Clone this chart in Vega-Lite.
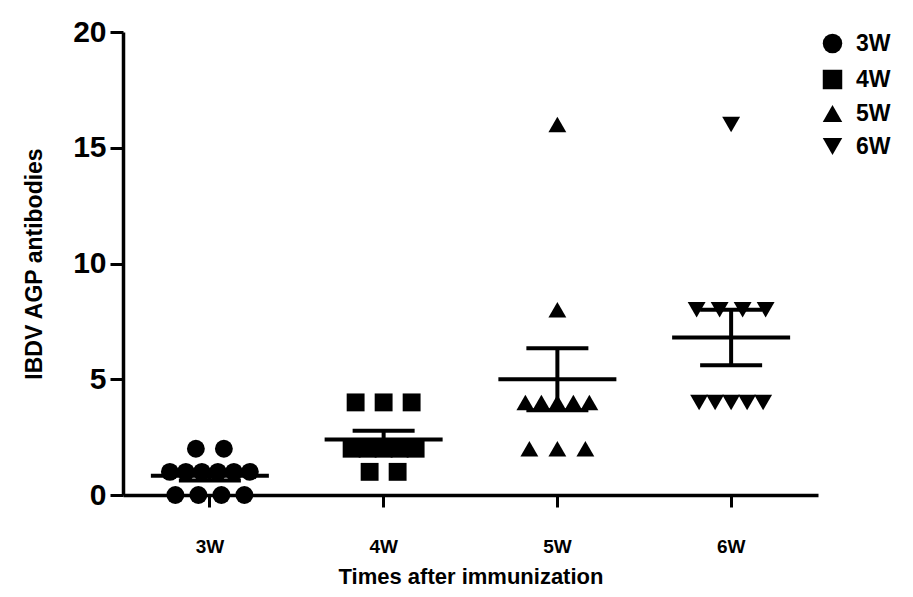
{
  "$schema": "https://vega.github.io/schema/vega-lite/v6.json",
  "width": 695,
  "height": 463,
  "autosize": {"type": "none"},
  "padding": {"left": 123, "top": 32, "right": 95, "bottom": 102},
  "background": "white",
  "config": {
    "view": {"stroke": null},
    "font": "Liberation Sans",
    "axis": {
      "grid": false,
      "domainColor": "black",
      "domainWidth": 3.5,
      "tickColor": "black",
      "tickWidth": 3,
      "labelColor": "black",
      "titleColor": "black",
      "labelFont": "Liberation Sans",
      "titleFont": "Liberation Sans"
    }
  },
  "data": {
    "values": [
      {"week": "3W", "value": 2}, {"week": "3W", "value": 2},
      {"week": "3W", "value": 1}, {"week": "3W", "value": 1}, {"week": "3W", "value": 1},
      {"week": "3W", "value": 1}, {"week": "3W", "value": 1}, {"week": "3W", "value": 1},
      {"week": "3W", "value": 0}, {"week": "3W", "value": 0}, {"week": "3W", "value": 0}, {"week": "3W", "value": 0},
      {"week": "4W", "value": 4}, {"week": "4W", "value": 4}, {"week": "4W", "value": 4},
      {"week": "4W", "value": 2}, {"week": "4W", "value": 2}, {"week": "4W", "value": 2},
      {"week": "4W", "value": 2}, {"week": "4W", "value": 2},
      {"week": "4W", "value": 1}, {"week": "4W", "value": 1},
      {"week": "5W", "value": 16}, {"week": "5W", "value": 8},
      {"week": "5W", "value": 4}, {"week": "5W", "value": 4}, {"week": "5W", "value": 4},
      {"week": "5W", "value": 4}, {"week": "5W", "value": 4},
      {"week": "5W", "value": 2}, {"week": "5W", "value": 2}, {"week": "5W", "value": 2},
      {"week": "6W", "value": 16},
      {"week": "6W", "value": 8}, {"week": "6W", "value": 8}, {"week": "6W", "value": 8}, {"week": "6W", "value": 8},
      {"week": "6W", "value": 4}, {"week": "6W", "value": 4}, {"week": "6W", "value": 4},
      {"week": "6W", "value": 4}, {"week": "6W", "value": 4}
    ]
  },
  "encoding": {
    "x": {
      "field": "week",
      "type": "nominal",
      "scale": {"type": "band", "paddingInner": 0, "paddingOuter": 0, "domain": ["3W", "4W", "5W", "6W"]},
      "axis": {
        "title": "Times after immunization",
        "labelAngle": 0,
        "labelFontSize": 19,
        "labelFontWeight": "bold",
        "labelPadding": 30,
        "tickSize": 12,
        "titleFontSize": 22,
        "titleFontWeight": "bold",
        "titlePadding": 10
      }
    }
  },
  "layer": [
    {
      "transform": [
        {"window": [{"op": "row_number", "as": "rk"}], "groupby": ["week", "value"]},
        {"joinaggregate": [{"op": "count", "as": "cnt"}], "groupby": ["week", "value"]},
        {"calculate": "(datum.rk - (datum.cnt + 1) / 2) * (datum.cnt <= 3 ? 28 : (datum.cnt == 4 ? 23 : 16))", "as": "jit"}
      ],
      "mark": {"type": "point", "filled": true, "opacity": 1, "color": "black", "size": 320},
      "encoding": {
        "y": {
          "field": "value",
          "type": "quantitative",
          "title": "IBDV  AGP antibodies",
          "scale": {"domain": [0, 20], "nice": false, "zero": true},
          "axis": {
            "title": "IBDV  AGP antibodies",
            "values": [0, 5, 10, 15, 20],
            "labelFontSize": 30,
            "labelFontWeight": "bold",
            "tickSize": 13,
            "labelPadding": 4,
            "titleFontSize": 23,
            "titleFontWeight": "bold",
            "titlePadding": 26
          }
        },
        "xOffset": {
          "field": "jit",
          "type": "quantitative",
          "scale": {"domain": [-60, 60], "range": [26.875, 146.875]}
        },
        "shape": {
          "field": "week",
          "type": "nominal",
          "scale": {"domain": ["3W", "4W", "5W", "6W"], "range": ["circle", "square", "triangle-up", "triangle-down"]},
          "legend": {
            "title": null,
            "orient": "none",
            "legendX": 698,
            "legendY": 0,
            "labelFontSize": 23,
            "labelFontWeight": "bold",
            "labelColor": "black",
            "symbolSize": 380,
            "symbolFillColor": "black",
            "symbolStrokeColor": "black",
            "rowPadding": 9,
            "labelOffset": 12
          }
        }
      }
    },
    {
      "mark": {
        "type": "errorbar",
        "extent": "stderr",
        "ticks": {"color": "black", "opacity": 1},
        "rule": {"color": "black", "opacity": 1},
        "size": 62,
        "thickness": 4,
        "color": "black",
        "opacity": 1
      },
      "encoding": {
        "y": {"field": "value", "type": "quantitative", "title": "IBDV  AGP antibodies"}
      }
    },
    {
      "mark": {"type": "tick", "size": 118, "thickness": 4, "color": "black", "opacity": 1},
      "encoding": {
        "y": {"aggregate": "mean", "field": "value", "type": "quantitative", "title": "IBDV  AGP antibodies"}
      }
    }
  ]
}
